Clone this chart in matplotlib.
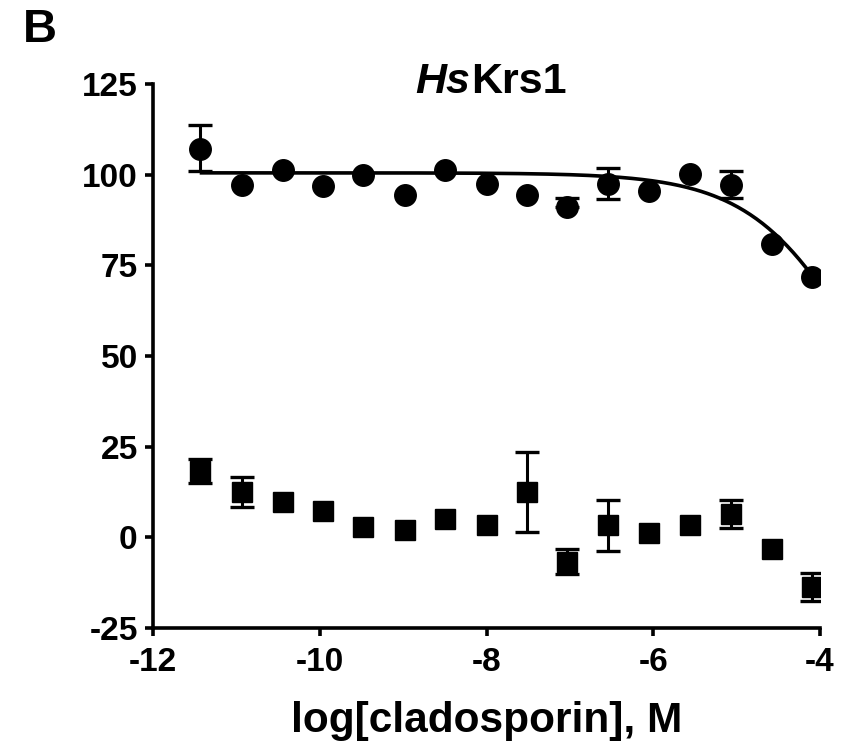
import numpy as np
import matplotlib
matplotlib.use("Agg")
import matplotlib.pyplot as plt

plt.rcParams['font.family'] = ['Liberation Sans', 'DejaVu Sans']
plt.rcParams['font.weight'] = 'bold'

# ---- data ----
log_conc = [-11.44, -10.93, -10.44, -9.96, -9.48, -8.98, -8.50, -8.00,
            -7.52, -7.04, -6.54, -6.05, -5.56, -5.07, -4.58, -4.10]
circle_vals = [107.2, 97.2, 101.4, 96.9, 100.0, 94.4, 101.4, 97.5,
               94.4, 91.1, 97.5, 95.6, 100.3, 97.2, 80.8, 71.7]
circle_err_lo = [6.2, 0, 0, 0, 0, 0, 0, 0, 0, 0, 4.3, 0, 0, 3.7, 0, 0]
circle_err_hi = [6.4, 0, 0, 0, 0, 0, 0, 0, 0, 2.5, 4.3, 0, 0, 3.7, 0, 0]
square_vals = [18.3, 12.5, 9.7, 7.2, 2.8, 1.9, 5.0, 3.3,
               12.5, -6.7, 3.3, 1.1, 3.3, 6.4, -3.3, -13.6]
square_err = [3.2, 4.2, 0, 0, 0, 0, 0, 0, 11.0, 3.5, 7.0, 0, 0, 3.8, 0, 3.9]

# dose-response fit parameters for the circle series
fit_top, fit_bottom, fit_logic50, fit_hill = 100.5, 0.0, -3.47, 0.65

x_ticks = [-12, -10, -8, -6, -4]
y_ticks = [-25, 0, 25, 50, 75, 100, 125]
title_italic = "Hs"
title_rest = "Krs1"
x_label = "log[cladosporin], M"
panel_label = "B"

# ---- figure ----
W, H = 867, 756
fig = plt.figure(figsize=(W / 100, H / 100), dpi=100)
ax = fig.add_axes([153/W, 1 - 628/H, (820-153)/W, (628-84)/H])

x = np.array(log_conc)
cv = np.array(circle_vals)
sv = np.array(square_vals)
elo = np.array(circle_err_lo); ehi = np.array(circle_err_hi)
se = np.array(square_err)

lw = 2.6
# fitted curve
xc = np.linspace(x[0], x[-1], 300)
yc = fit_bottom + (fit_top - fit_bottom) / (1 + 10 ** ((xc - fit_logic50) * fit_hill))
ax.plot(xc, yc, color='black', lw=lw, zorder=3, solid_capstyle='butt')

# error bars
m = (elo > 0) | (ehi > 0)
ax.errorbar(x[m], cv[m], yerr=[elo[m], ehi[m]], fmt='none', ecolor='black',
            elinewidth=2.2, capsize=8.5, capthick=2.4, zorder=2)
m2 = se > 0
ax.errorbar(x[m2], sv[m2], yerr=se[m2], fmt='none', ecolor='black',
            elinewidth=2.2, capsize=8.5, capthick=2.4, zorder=2)

# markers
ax.plot(x, cv, 'o', color='black', ms=15.5, zorder=4)
ax.plot(x, sv, 's', color='black', ms=14.5, zorder=4)

ax.set_xlim(-12, -4)
ax.set_ylim(-25, 125)
ax.set_xticks(x_ticks)
ax.set_yticks(y_ticks)
ax.set_xticklabels([str(t) for t in x_ticks])
ax.set_yticklabels([str(t) for t in y_ticks])

for s in ['top', 'right']:
    ax.spines[s].set_visible(False)
for s in ['left', 'bottom']:
    ax.spines[s].set_linewidth(2.6)
ax.tick_params(axis='both', direction='out', length=6, width=2.6,
               labelsize=24, pad=5)
ax.tick_params(axis='x', pad=8)
for lab in ax.get_xticklabels() + ax.get_yticklabels():
    lab.set_fontweight('bold')

ax.set_xlabel(x_label, fontsize=30.5, fontweight='bold', labelpad=16)

# title with italic part, centred at ~491 px
t1 = fig.text(0, 1 - 82/H, title_italic, fontsize=31, fontweight='bold',
              fontstyle='italic', ha='left', va='center')
t2 = fig.text(0, 1 - 82/H, title_rest, fontsize=31, fontweight='bold',
              ha='left', va='center')
fig.canvas.draw()
w1 = t1.get_window_extent().width
w2 = t2.get_window_extent().width
x0 = 491 - (w1 + w2) / 2
t1.set_x(x0 / W)
t2.set_x((x0 + w1) / W)

fig.text(23/W, 1 - 30/H, panel_label, fontsize=34, fontweight='bold',
         ha='left', va='center')

fig.savefig('out.png', dpi=100, facecolor='white')
